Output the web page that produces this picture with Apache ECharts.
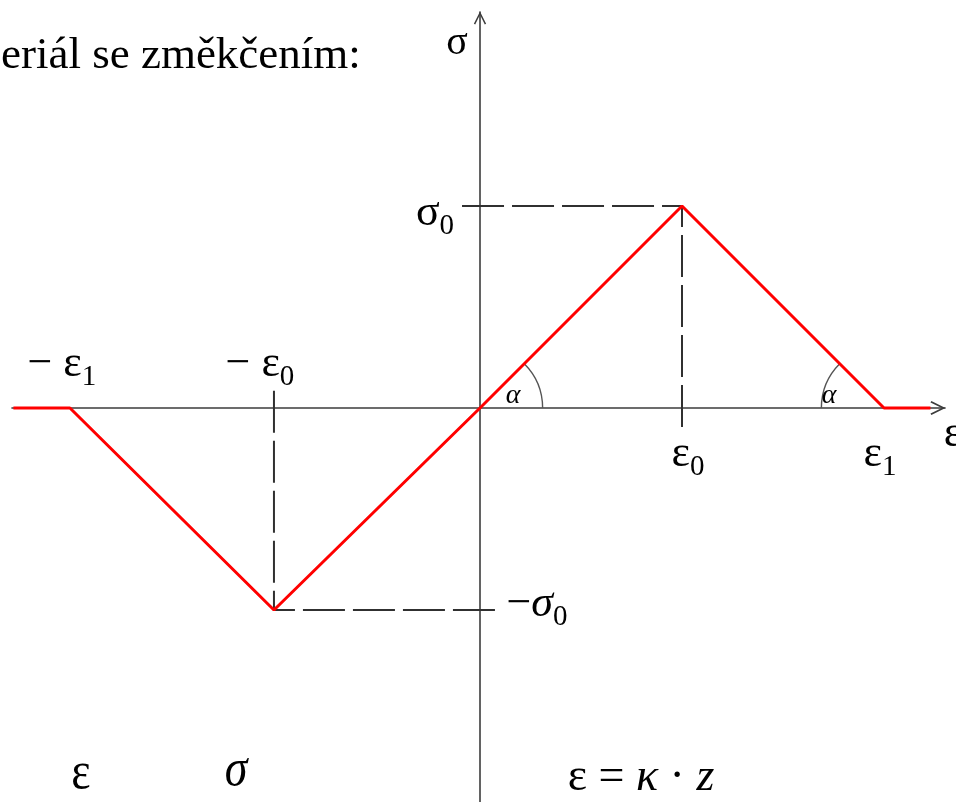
<!DOCTYPE html>
<html>
<head>
<meta charset="utf-8">
<script src="https://cdn.jsdelivr.net/npm/echarts@6/dist/echarts.min.js"></script>
<style>
  html, body { margin: 0; padding: 0; background: #fff; }
  #chart { width: 956px; height: 802px; }
</style>
</head>
<body>
<div id="chart"></div>
<script>
// Softening material: bilinear stress–strain law, symmetric in tension/compression
const strainPts = [-2.31, -2.03, -1.02, 0, 1, 2, 2.23];
const stressPts = [0, 0, -1, 0, 1, 0, 0];

// Dashed guide lines to the peak points
const guideNegV = [[-1.02, 0.085], [-1.02, -1]];
const guideNegH = [[0.074, -1], [-1.02, -1]];
const guidePosH = [[-0.089, 1], [1, 1]];
const guidePosV = [[1, -0.094], [1, 1]];

// Tick-like annotations on the axes
const strainMarks = [-2.03, -1.02, 1, 2];
const strainLabels = ['{m|− ε}{s|1}', '{m|− ε}{s|0}', '{m|ε}{s|0}', '{m|ε}{s|1}'];
const stressMarks = [1, -1];
const stressLabels = ['{m|σ}{s|0}', '{m|−}{i|σ}{s|0}'];

// Angle arcs (slope α) at the origin and at ε1
const anglePts = [[0, 0], [2, 0]];
const angleLabel = 'α';

const titleText = 'eriál se změkčením:';
const axisNameX = 'ε';
const axisNameY = 'σ';
const bottomTexts = ['{u|ε}', '{k|σ}', '{u|ε = }{k|κ}{u| · }{k|z}'];

const SERIF = '"Liberation Serif", "DejaVu Serif", serif';
const AXIS_COLOR = '#3c3c3c';
const chevron = 'path://M0,10 L5,0 L10,10 L8.9,10.6 L5,2.6 L1.1,10.6 Z';

const chart = echarts.init(document.getElementById('chart'), null, { renderer: 'canvas' });

const richStyles = {
  m: { fontFamily: SERIF, fontSize: 44, fill: '#000', lineHeight: 44 },
  i: { fontFamily: SERIF, fontSize: 44, fill: '#000', lineHeight: 44, fontStyle: 'italic' },
  s: { fontFamily: SERIF, fontSize: 29, fill: '#000', lineHeight: 44, padding: [26, 0, 0, 0] }
};

const strainOffsets = [[-8, -44], [-14, -44], [6, 46], [-4, 46]];
const stressOffsets = [[-45, 7], [57, -6]];
const alphaOffsets = [[33, -12], [-55, -12]];

const guideStyle = { color: '#303030', width: 2, type: [42, 8] };
function guide(data) {
  return {
    type: 'line', data: data, symbol: 'none', silent: true, z: 1,
    lineStyle: guideStyle, animation: false
  };
}

const bottomRich = {
  u: { fontFamily: SERIF, fontSize: 46, fill: '#000' },
  k: { fontFamily: SERIF, fontSize: 46, fill: '#000', fontStyle: 'italic' }
};

chart.setOption({
  animation: false,
  backgroundColor: '#fff',
  grid: { left: 12, right: 11, top: 12, bottom: 0, containLabel: false },
  xAxis: {
    type: 'value', min: -468 / 202, max: 465 / 202,
    axisLine: {
      onZero: true, symbol: ['none', chevron], symbolSize: [15, 15], symbolOffset: [0, -7],
      lineStyle: { color: AXIS_COLOR, width: 1.6 }
    },
    axisTick: { show: false }, axisLabel: { show: false }, splitLine: { show: false }
  },
  yAxis: {
    type: 'value', min: -394 / 202, max: 396 / 202,
    axisLine: {
      onZero: true, symbol: ['none', chevron], symbolSize: [15, 13], symbolOffset: [0, -6],
      lineStyle: { color: AXIS_COLOR, width: 1.6 }
    },
    axisTick: { show: false }, axisLabel: { show: false }, splitLine: { show: false }
  },
  series: [
    guide(guideNegV), guide(guideNegH), guide(guidePosH), guide(guidePosV),
    {
      type: 'line',
      data: strainPts.map((x, i) => [x, stressPts[i]]),
      symbol: 'none', z: 5,
      lineStyle: { color: '#ff0000', width: 3 }
    },
    {
      type: 'custom',
      data: anglePts,
      z: 4,
      renderItem: function (params, api) {
        const c = api.coord([api.value(0), api.value(1)]);
        const r = api.size([0.31, 0])[0];
        const right = params.dataIndex === 0;
        return {
          type: 'arc',
          shape: {
            cx: c[0], cy: c[1], r: r,
            startAngle: right ? -Math.PI / 4 : Math.PI,
            endAngle: right ? 0 : Math.PI * 1.25,
            clockwise: true
          },
          style: { stroke: '#555', fill: null, lineWidth: 1.4 }
        };
      }
    }
  ]
});

// Annotation texts placed at the pixel positions of their data points
function at(point, off, style) {
  const p = chart.convertToPixel({ gridIndex: 0 }, point);
  return {
    type: 'text', x: p[0] + off[0], y: p[1] + off[1], z: 10,
    style: Object.assign({ align: 'center', verticalAlign: 'middle', fill: '#000' }, style)
  };
}

const graphics = [];
strainMarks.forEach((v, i) => graphics.push(at([v, 0], strainOffsets[i], { text: strainLabels[i], rich: richStyles, font: '44px ' + SERIF })));
stressMarks.forEach((v, i) => graphics.push(at([0, v], stressOffsets[i], { text: stressLabels[i], rich: richStyles, font: '44px ' + SERIF })));
anglePts.forEach((p, i) => graphics.push(at(p, alphaOffsets[i], { text: angleLabel, font: 'italic 28px ' + SERIF })));

graphics.push(
  { type: 'text', left: 1, top: 34, style: { text: titleText, font: '45px ' + SERIF, fill: '#000' } },
  { type: 'text', x: 457, y: 43, style: { text: axisNameY, font: '40px ' + SERIF, fill: '#000', align: 'center', verticalAlign: 'middle' } },
  { type: 'text', x: 953, y: 434, style: { text: axisNameX, font: '44px ' + SERIF, fill: '#000', align: 'center', verticalAlign: 'middle' } },
  { type: 'text', x: 81, y: 774, scaleY: 1.15, style: { text: bottomTexts[0], rich: bottomRich, font: '46px ' + SERIF, fill: '#000', align: 'center', verticalAlign: 'middle' } },
  { type: 'text', x: 236, y: 771, scaleY: 1.15, style: { text: bottomTexts[1], rich: bottomRich, font: '46px ' + SERIF, fill: '#000', align: 'center', verticalAlign: 'middle' } },
  { type: 'text', x: 641, y: 778, style: { text: bottomTexts[2], rich: bottomRich, font: '46px ' + SERIF, fill: '#000', align: 'center', verticalAlign: 'middle' } }
);

chart.setOption({ graphic: graphics });
</script>
</body>
</html>
